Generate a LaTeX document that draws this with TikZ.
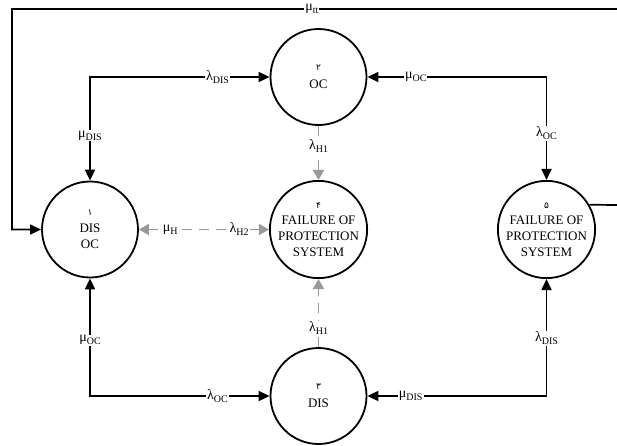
\documentclass[tikz,border=0pt]{standalone}
\usepackage{fontspec}
\setmainfont{Liberation Serif}
\newfontfamily\fadigits[Script=Arabic]{DejaVu Sans}
\usetikzlibrary{arrows.meta}
\TeXXeTstate=1
\newcommand{\rlab}[2]{{\fontsize{14}{14}\selectfont #1}\raisebox{-3pt}{\fontsize{10}{10}\selectfont #2}}
\newcommand{\dig}[1]{{\fadigits\fontsize{9}{9}\selectfont #1}}
\begin{document}
\begin{tikzpicture}[x=1pt,y=-1pt,
  state/.style={circle, draw, line width=1.8pt, minimum size=96pt, inner sep=0pt,
    align=center, font=\fontsize{13}{16}\selectfont},
  conn/.style={line width=1.7pt, {Triangle[length=11pt,width=10pt]}-{Triangle[length=11pt,width=10pt]}},
  arr/.style={line width=1.7pt, -{Triangle[length=11pt,width=10pt]}},
  gconn/.style={line width=1.8pt, draw=gray!80, dash pattern=on 10pt off 7pt,
    {Triangle[length=10pt,width=11pt]}-{Triangle[length=10pt,width=11pt]}},
  garr/.style={line width=1.8pt, draw=gray!80, dash pattern=on 10pt off 7pt,
    -{Triangle[length=10pt,width=11pt]}},
  lab/.style={fill=white, inner sep=1pt}
]
\useasboundingbox (0,0) rectangle (617,445);

\node[state] (n1) at (90,229.5) {\dig{۱}\\[1pt]DIS\\OC};
\node[state] (n2) at (318.5,77) {\dig{۲}\\[2pt]OC};
\node[state] (n3) at (318.5,396) {\dig{۳}\\[2pt]DIS};
\node[state] (n4) at (318.5,229.5) {\dig{۴}\\FAILURE OF\\PROTECTION\\SYSTEM};
\node[state] (n5) at (546.5,229.5) {\dig{۵}\\FAILURE OF\\PROTECTION\\SYSTEM};

\coordinate (c1) at (619,205);
\coordinate (c2) at (619,9);
\coordinate (c3) at (12,9);

% outer loop
\draw[arr] (n5.30) -- (c1) -- (c2) -- node[lab,pos=0.506] {\rlab{μ}{tt}} (c3) |- (n1.west);

% black connectors
\draw[conn] (n1.north) |- node[lab,pos=0.218] {\rlab{μ}{DIS}} node[lab,pos=0.855] {\rlab{λ}{DIS}} (n2.west);
\draw[conn] (n2.east) -| node[lab,pos=0.135] {\rlab{μ}{OC}} node[lab,pos=0.772] {\rlab{λ}{OC}} (n5.north);
\draw[conn] (n1.south) |- node[lab,pos=0.263] {\rlab{μ}{OC}} node[lab,pos=0.855] {\rlab{λ}{OC}} (n3.west);
\draw[conn] (n3.east) -| node[lab,pos=0.121] {\rlab{μ}{DIS}} node[lab,pos=0.746] {\rlab{λ}{DIS}} (n5.south);

% grey dashed connectors
\draw[garr] (n2.south) -- node[lab,pos=0.38] {\rlab{λ}{H1}} (n4.north);
\draw[garr] (n3.north) -- node[lab,pos=0.28] {\rlab{λ}{H1}} (n4.south);
\draw[gconn] (n1.east) -- node[lab,pos=0.24] {\rlab{μ}{H}} node[lab,pos=0.77] {\rlab{λ}{H2}} (n4.west);
\end{tikzpicture}
\end{document}
